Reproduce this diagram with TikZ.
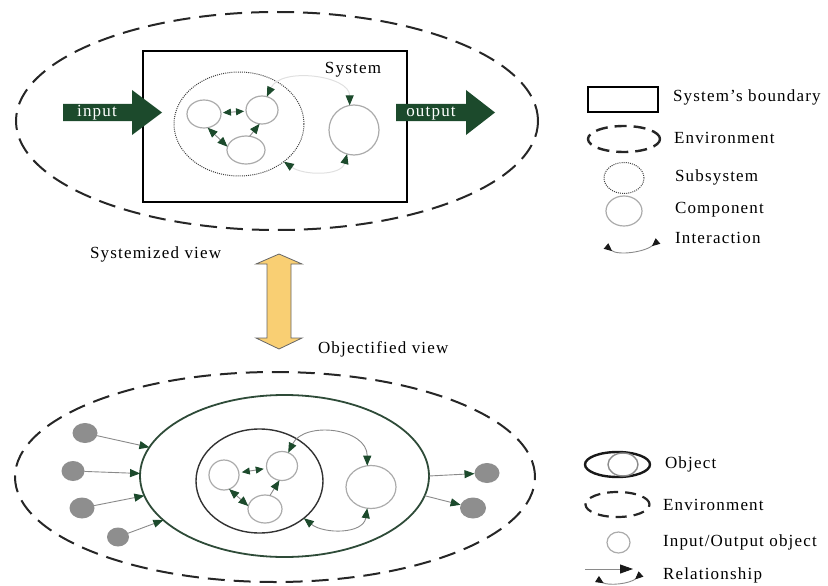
\documentclass[tikz,border=0pt]{standalone}
\usepackage{fontspec}
\setmainfont{Liberation Serif}[LetterSpace=7]
\usetikzlibrary{arrows.meta,shapes.geometric,calc}

\definecolor{dkgreen}{HTML}{1C4A2C}
\definecolor{objgreen}{HTML}{2E4B38}
\definecolor{compgray}{HTML}{ABABAB}
\definecolor{linegray}{HTML}{8A8A8A}
\definecolor{faintgray}{HTML}{E0E0E0}
\definecolor{dotgray}{HTML}{8E8E8E}
\definecolor{viewyellow}{HTML}{F9CF73}

\tikzset{
  el/.style 2 args={ellipse, minimum width={2*#1}, minimum height={2*#2}},
  envline/.style={draw=black!85, line width=2pt, dash pattern=on 17pt off 9pt},
  subline/.style={draw=black!75, line width=1pt, dash pattern=on 1pt off 1.1pt},
  comp/.style={draw=compgray, line width=1.2pt},
  link/.style={draw=linegray, line width=0.9pt},
  faint/.style={draw=faintgray, line width=1pt},
  iodot/.style={fill=dotgray},
  legtext/.style={anchor=base west},
  legtip/.tip={Triangle[length=8pt,width=7pt,color=black!90]},
  smalltip/.tip={Triangle[length=8pt,width=7pt,color=dkgreen]},
}

\begin{document}
\begin{tikzpicture}[x=1pt,y=-1pt,
  every node/.style={inner sep=0pt, outer sep=0pt, font=\fontsize{17}{20}\selectfont},
  >={Triangle[length=10pt,width=8pt,color=dkgreen]}]
\useasboundingbox (0,0) rectangle (828,586);

% ---------- systemized view ----------
\node[el={261}{109}, envline] (envA) at (277,121) {};
\node[draw, line width=2pt, minimum width=264, minimum height=151] (sys) at (275,126.5) {};
\node[anchor=base] (sysl) at (353,74) {System};
\node[el={65}{52}, subline] (subA) at (239,124) {};
\node[el={17}{14}, comp] (a1) at (204,114) {};
\node[el={16}{14}, comp] (a2) at (262,110) {};
\node[el={19}{14}, comp] (a3) at (246,150) {};
\node[el={25}{25}, comp] (a4) at (354,130) {};
\draw[link,{smalltip}-{smalltip},shorten <=2pt,shorten >=2pt] (a1) -- (a2);
\draw[link,<->] (a1.-75) -- (a3.170);
\draw[link,->] (a3.75) -- (a2.-100);
\draw[faint,<->] (a2.70) .. controls ($(a2.70)+(14,-30)$) and ($(a4.100)+(0,-30)$) .. (a4.100);
\draw[faint,<->] (subA.-40) .. controls ($(subA.-40)+(20,14)$) and ($(a4.-106)+(-6,22)$) .. (a4.-106);

% input / output block arrows
\fill[dkgreen] (63,104) -- (132,104) -- (132,90) -- (162,112.5) -- (132,135) -- (132,121) -- (63,121) -- cycle;
\node[anchor=base, text=white] (inl) at (97,117) {input};
\fill[dkgreen] (396,104) -- (466,104) -- (466,90) -- (495,112.5) -- (466,135) -- (466,121) -- (396,121) -- cycle;
\node[anchor=base, text=white] (outl) at (431,117) {output};

% ---------- switching between views ----------
\node[anchor=base west] (sv) at (90,258.5) {Systemized view};
\node[anchor=base west] (ov) at (318,353.5) {Objectified view};
\filldraw[fill=viewyellow, draw=black!60, line width=0.8pt]
  (267,264) -- (256,264) -- (279,254) -- (302,264) -- (291,264) -- (291,338)
  -- (302,338) -- (279,349) -- (256,338) -- (267,338) -- cycle;

% ---------- objectified view ----------
\node[el={260}{105}, envline] (envB) at (275,477) {};
\node[el={144.5}{81}, draw=objgreen, line width=1.8pt] (obj) at (284.5,476) {};
\node[el={63.5}{52}, draw=black!80, line width=1.4pt] (inner) at (259.5,481) {};
\node[el={15}{15}, comp] (b1) at (224,475) {};
\node[el={15.5}{14.5}, comp] (b2) at (282,466) {};
\node[el={17}{14}, comp] (b3) at (265,509) {};
\node[el={25}{21.5}, comp] (b4) at (371,487) {};
\draw[link,{smalltip}-{smalltip},shorten <=3pt,shorten >=3pt] (b1) -- (b2);
\draw[link,<->] (b1.-70) -- (b3.170);
\draw[link,->] (b3.70) -- (b2.-100);
\draw[link,<->] (b2.65) .. controls ($(b2.65)+(16,-32)$) and ($(b4.100)+(0,-38)$) .. (b4.100);
\draw[link,<->] (inner.-40) .. controls ($(inner.-40)+(20,16)$) and ($(b4.-100)+(-4,26)$) .. (b4.-100);

% input and output objects
\node[el={12.5}{10}, iodot] (d1) at (85,433) {};
\node[el={11.5}{10}, iodot] (d2) at (73,471) {};
\node[el={12.5}{10.5}, iodot] (d3) at (82,508) {};
\node[el={11}{9.5}, iodot] (d4) at (118,537) {};
\node[el={12.5}{10}, iodot] (o1) at (487,473) {};
\node[el={13}{10.5}, iodot] (o2) at (473,508) {};
\draw[link,->] (d1) -- (obj.168.6);
\draw[link,->] (d2) -- (obj.179.2);
\draw[link,->] (d3) -- (obj.188.6);
\draw[link,->] (d4) -- (obj.200.5);
\draw[link,->] (obj.0.4) -- (o1);
\draw[link,->] (obj.-8.4) -- (o2);

% ---------- legend: systemized view ----------
\node[draw, line width=2.4pt, minimum width=70, minimum height=25] (lgRect) at (623,99.5) {};
\node[legtext] (lgRectT) at (673,102) {System’s boundary};
\node[el={36}{13}, draw=black!85, line width=2.4pt, dash pattern=on 12pt off 7pt] (lgEnvA) at (624,139) {};
\node[legtext] (lgEnvAT) at (674,143) {Environment};
\node[el={20}{15.5}, subline] (lgSub) at (624,178) {};
\node[legtext] (lgSubT) at (675,181.5) {Subsystem};
\node[el={18}{15}, comp] (lgComp) at (624,211) {};
\node[legtext] (lgCompT) at (675,213) {Component};
\coordinate (lgIa) at (606,246);
\coordinate (lgIb) at (658,241);
\draw[link, {legtip[reversed]}-{legtip[reversed]}] (lgIa) .. controls (618,256) and (645,252) .. (lgIb);
\node[legtext] (lgIT) at (675,243) {Interaction};

% ---------- legend: objectified view ----------
\node[el={32.5}{12.5}, draw=black!90, line width=2.4pt] (lgObj) at (617.5,464.5) {};
\node[el={15}{11.5}, draw=black!45, line width=1.4pt] (lgObjIn) at (623,464.5) {};
\node[legtext] (lgObjT) at (665,468) {Object};
\node[el={32}{12.5}, draw=black!85, line width=2.2pt, dash pattern=on 11pt off 7pt] (lgEnvB) at (617.5,504.5) {};
\node[legtext] (lgEnvBT) at (663,510) {Environment};
\node[el={11.5}{10.5}, comp] (lgIO) at (618.5,542.5) {};
\node[legtext] (lgIOT) at (663,546.5) {Input/Output object};
\coordinate (lgRa) at (585,569);
\coordinate (lgRb) at (633,569);
\draw[link, -{Triangle[length=13pt,width=9pt,color=black!90]}] (lgRa) -- (lgRb);
\coordinate (lgRc) at (597,579);
\coordinate (lgRd) at (641,574);
\draw[link, {legtip[reversed]}-{legtip[reversed]}] (lgRc) .. controls (608,586) and (630,584) .. (lgRd);
\node[legtext] (lgRT) at (663,579.5) {Relationship};
\end{tikzpicture}
\end{document}
